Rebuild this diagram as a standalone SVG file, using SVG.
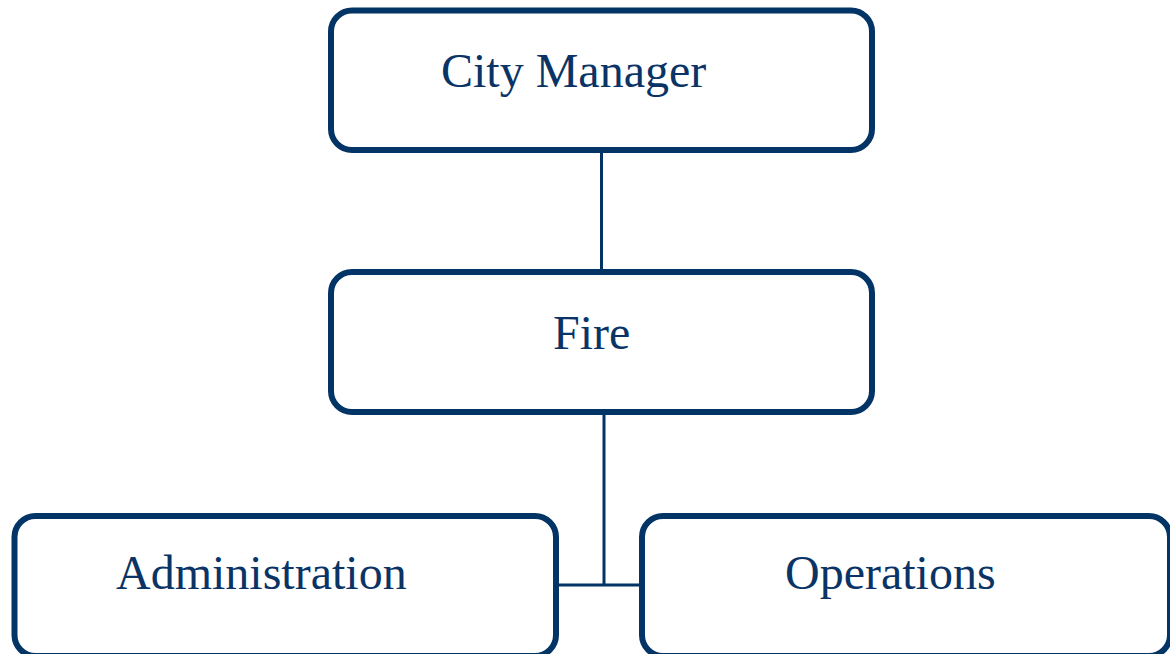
<svg xmlns="http://www.w3.org/2000/svg" width="1170" height="654" viewBox="0 0 1170 654">
<style>
.box{fill:#fff;stroke:#023466;stroke-width:6}
.lbl{font-family:"Liberation Serif","Times New Roman",serif;font-size:48px;fill:#0b3466}
.con{stroke:#023466;stroke-width:3;fill:none}
</style>
<rect width="1170" height="654" fill="#fff"/>
<g id="connectors">
<line class="con" x1="601.5" y1="150" x2="601.5" y2="272"/>
<line class="con" x1="604" y1="412" x2="604" y2="585"/>
<line class="con" x1="556" y1="585" x2="642" y2="585"/>
</g>
<g id="city-manager">
<rect class="box" x="331" y="10.5" width="541" height="139.5" rx="21"/>
<text class="lbl" x="441" y="87">City Manager</text>
</g>
<g id="fire">
<rect class="box" x="331" y="272" width="541" height="140" rx="21"/>
<text class="lbl" x="553" y="349">Fire</text>
</g>
<g id="administration">
<rect class="box" x="14.5" y="516" width="541.5" height="140" rx="21"/>
<text class="lbl" x="116" y="589">Administration</text>
</g>
<g id="operations">
<rect class="box" x="642" y="516" width="528" height="140" rx="21"/>
<text class="lbl" x="785" y="589">Operations</text>
</g>
</svg>
